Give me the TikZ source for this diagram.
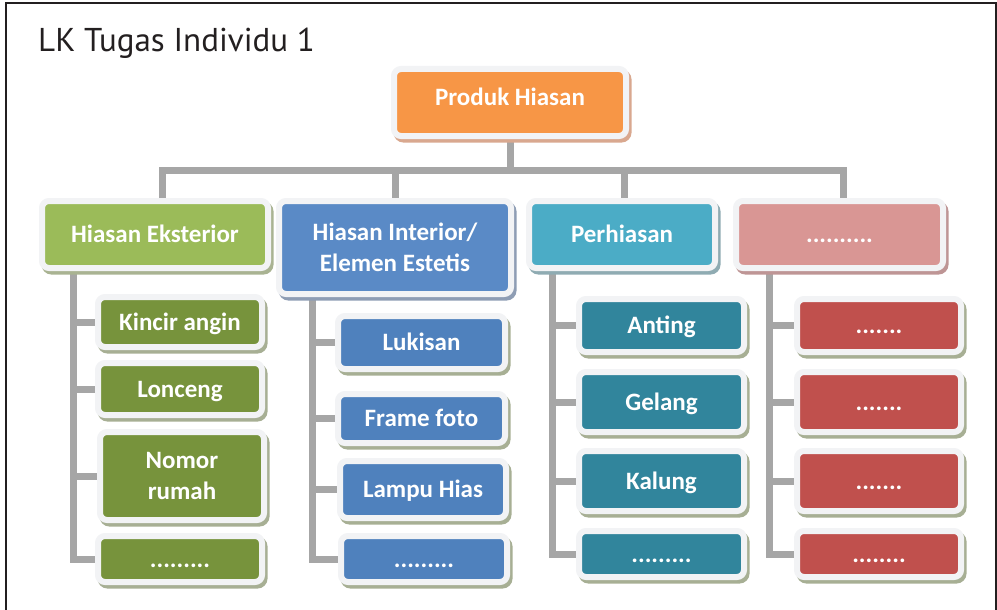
\documentclass[tikz,border=0pt]{standalone}
\usepackage{fontspec}
\setmainfont{Carlito}
\newfontfamily\judulfont{PT Sans}
\usetikzlibrary{shadows,backgrounds,positioning}

\definecolor{oranye}{HTML}{F79646}
\definecolor{hijaumuda}{HTML}{9BBB59}
\definecolor{hijautua}{HTML}{77933C}
\definecolor{birumuda}{HTML}{5A8AC6}
\definecolor{birutua}{HTML}{4F81BD}
\definecolor{tosca}{HTML}{4BACC6}
\definecolor{toscatua}{HTML}{31859C}
\definecolor{merahmuda}{HTML}{D99694}
\definecolor{merahtua}{HTML}{C0504D}
\definecolor{abu}{HTML}{A6A6A6}
\definecolor{bingkai}{HTML}{F2F3F5}
\definecolor{bayang}{HTML}{A7AF94}
\definecolor{bayangoranye}{HTML}{D9A88F}
\definecolor{bayanghijau}{HTML}{A9B392}
\definecolor{bayangbiru}{HTML}{8E9DB4}
\definecolor{bayangtosca}{HTML}{8FABB2}
\definecolor{bayangmerah}{HTML}{BE9595}
\definecolor{tinta}{HTML}{231F20}

\tikzset{
  kotak/.style={draw=bingkai, line width=6pt, rounded corners=7pt, outer sep=0pt,
    inner sep=0pt, text=white, align=center, text height=16pt, text depth=0pt,
    font=\bfseries\fontsize{25}{31}\selectfont,
    drop shadow={shadow xshift=2.5pt, shadow yshift=-3.5pt, fill=#1, draw=#1,
      line width=6pt, opacity=1}},
  kotak/.default=bayang,
  duabaris/.style={text height=47pt},
  garis/.style={draw=abu, line width=7pt}
}

\begin{document}
\begin{tikzpicture}[x=1pt, y=-1pt]

    % AREA GAMBAR
    \useasboundingbox (0,0) rectangle (997,610);
    \draw[line width=2pt, tinta] (6,610) -- (6,3) -- (996,3) -- (996,610);

    % JUDUL
    \node[anchor=base west, inner sep=0pt, text=tinta,
          font=\judulfont\fontsize{33}{40}\selectfont] (judul) at (38,52) {LK Tugas Individu 1};

    % PUNCAK
    \node[kotak=bayangoranye, fill=oranye, minimum width=232pt, minimum height=67pt, text depth=9pt]
        (produk) at (510,102.5) {Produk Hiasan};

    % TINGKAT 1
    \node[kotak=bayanghijau, fill=hijaumuda, minimum width=226pt, minimum height=67pt]
        (eksterior) at (155,234.5) {Hiasan Eksterior};
    \node[kotak=bayangbiru, fill=birumuda, minimum width=232pt, minimum height=93pt, duabaris]
        (interior) at (395,247.5) {Hiasan Interior/\\Elemen Estetis};
    \node[kotak=bayangtosca, fill=tosca, minimum width=186pt, minimum height=67pt]
        (perhiasan) at (622,234.5) {Perhiasan};
    \node[kotak=bayangmerah, fill=merahmuda, minimum width=207pt, minimum height=67pt]
        (lainnya) at (839.5,234.5) {..........};

    % HIASAN EKSTERIOR
    \node[kotak, fill=hijautua, minimum width=164pt, minimum height=50pt] (kincir) at (180,322) {Kincir angin};
    \node[kotak, fill=hijautua, minimum width=164pt, minimum height=52pt] (lonceng) at (180,389) {Lonceng};
    \node[kotak, fill=hijautua, minimum width=164pt, minimum height=88pt, duabaris] (nomor) at (182,476) {Nomor\\rumah};
    \node[kotak, fill=hijautua, minimum width=164pt, minimum height=46pt] (eksdot) at (180,559) {.........};

    % HIASAN INTERIOR
    \node[kotak, fill=birutua, minimum width=167pt, minimum height=53pt] (lukisan) at (421.5,342.5) {Lukisan};
    \node[kotak, fill=birutua, minimum width=167pt, minimum height=49pt] (frame) at (421.5,418.5) {Frame foto};
    \node[kotak, fill=birutua, minimum width=166pt, minimum height=57pt] (lampu) at (423,489.5) {Lampu Hias};
    \node[kotak, fill=birutua, minimum width=166pt, minimum height=46pt] (intdot) at (424,559) {.........};

    % PERHIASAN
    \node[kotak, fill=toscatua, minimum width=165pt, minimum height=53pt] (anting) at (661.5,325.5) {Anting};
    \node[kotak, fill=toscatua, minimum width=165pt, minimum height=60pt] (gelang) at (661.5,402) {Gelang};
    \node[kotak, fill=toscatua, minimum width=165pt, minimum height=60pt] (kalung) at (661.5,481) {Kalung};
    \node[kotak, fill=toscatua, minimum width=165pt, minimum height=46pt] (perdot) at (661.5,554) {.........};

    % LAINNYA
    \node[kotak, fill=merahtua, minimum width=164pt, minimum height=53pt] (titik1) at (879,325.5) {.......};
    \node[kotak, fill=merahtua, minimum width=164pt, minimum height=60pt] (titik2) at (879,402) {.......};
    \node[kotak, fill=merahtua, minimum width=164pt, minimum height=60pt] (titik3) at (879,481) {.......};
    \node[kotak, fill=merahtua, minimum width=164pt, minimum height=46pt] (titik4) at (879,554) {........};

    % GARIS PENGHUBUNG
    \begin{pgfonlayer}{background}
        \coordinate (bar) at (510,170);
        \draw[garis] (produk) -- (bar);
        \draw[garis] ([xshift=7pt]eksterior.north) |- (bar) -| ([xshift=3.5pt]lainnya.north);
        \draw[garis] (interior.north) |- (bar);
        \draw[garis] ([xshift=2pt]perhiasan.north) |- (bar);

        \coordinate (tulangA) at ([xshift=31pt]eksterior.south west);
        \coordinate (tulangB) at ([xshift=33pt]interior.south west);
        \coordinate (tulangC) at ([xshift=23pt]perhiasan.south west);
        \coordinate (tulangD) at ([xshift=33pt]lainnya.south west);
        \foreach \n in {kincir,lonceng,nomor,eksdot} \draw[garis] (\n.west) -| (tulangA);
        \foreach \n in {lukisan,frame,lampu,intdot} \draw[garis] (\n.west) -| (tulangB);
        \foreach \n in {anting,gelang,kalung,perdot} \draw[garis] (\n.west) -| (tulangC);
        \foreach \n in {titik1,titik2,titik3,titik4} \draw[garis] (\n.west) -| (tulangD);
    \end{pgfonlayer}

\end{tikzpicture}
\end{document}
